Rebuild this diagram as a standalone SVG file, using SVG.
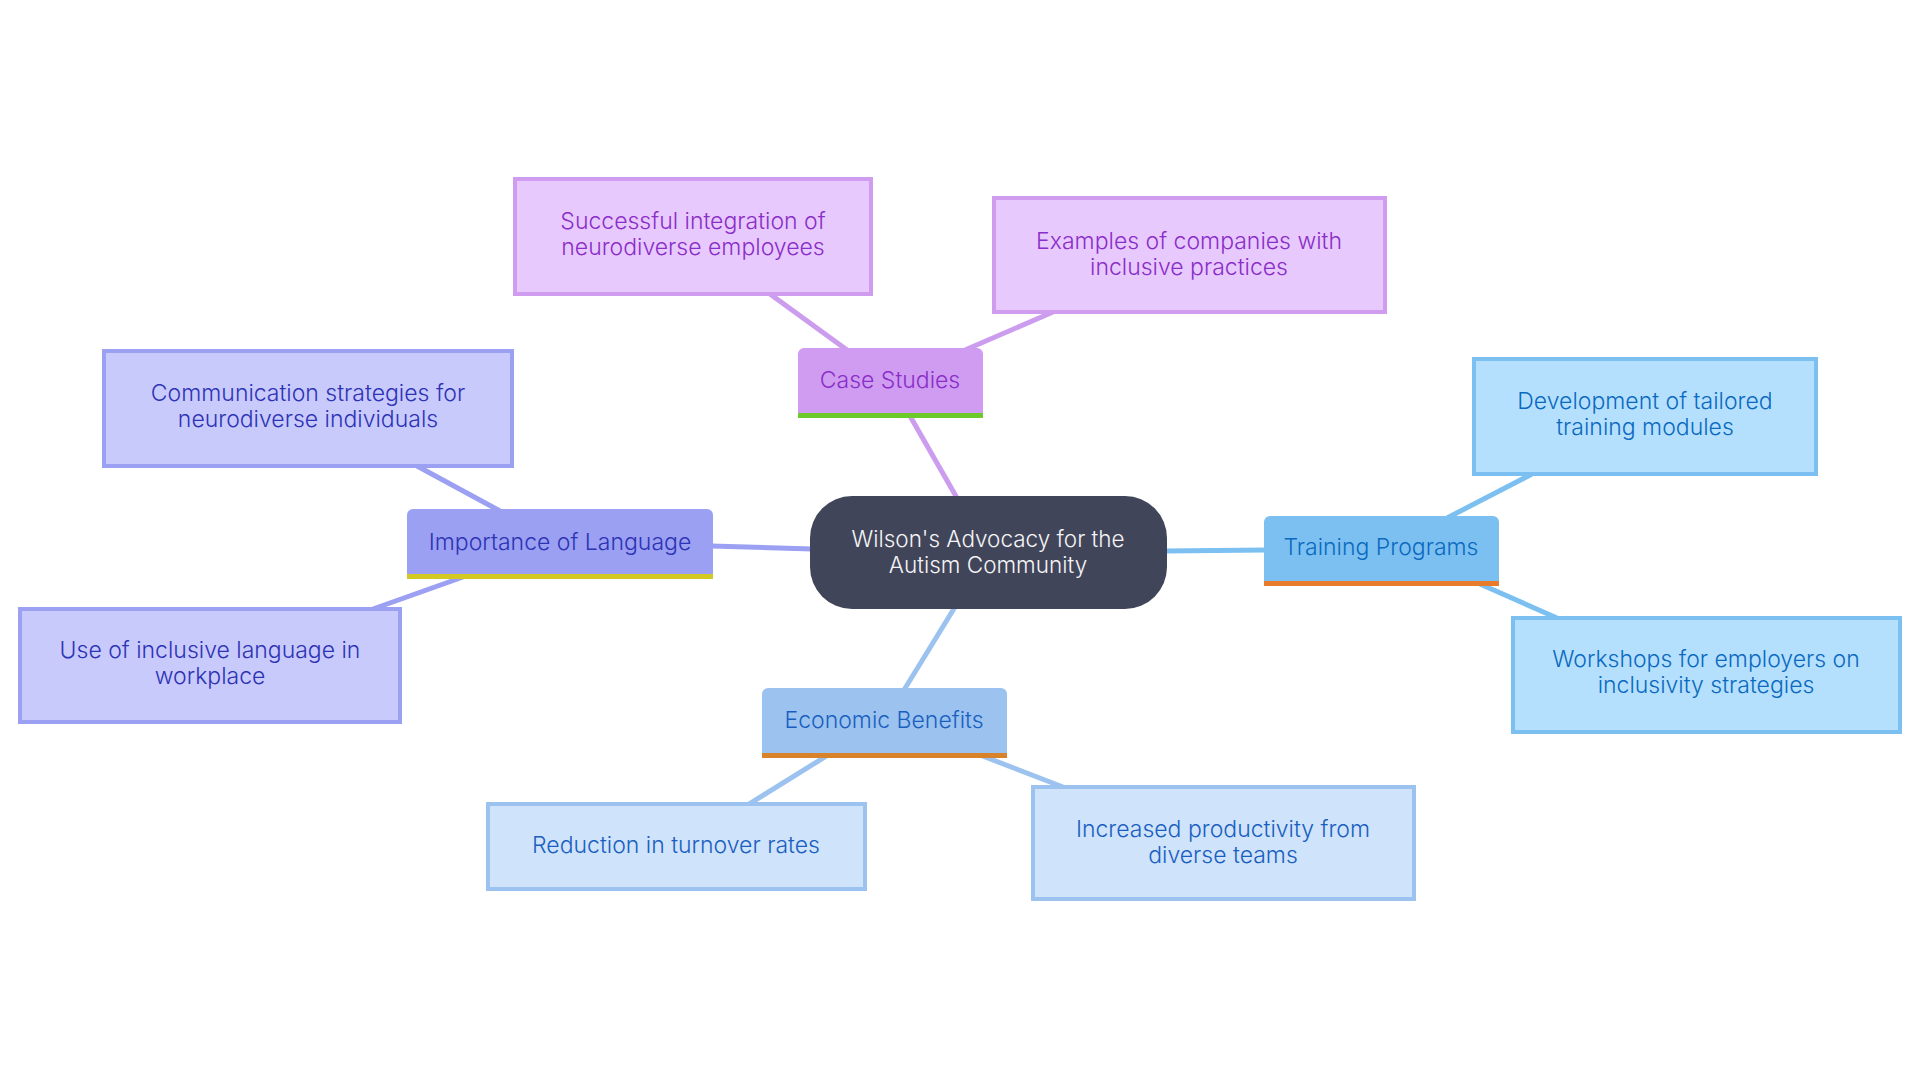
<svg xmlns="http://www.w3.org/2000/svg" width="1920" height="1080" viewBox="0 0 1920 1080">
<style>
text{font-family:Inter,"Noto Sans","Liberation Sans",sans-serif;font-size:23px;font-weight:300;text-anchor:middle;dominant-baseline:central}
.c{font-size:22.5px}
.e{fill:none;stroke-width:5;stroke-linecap:butt}
.ep{stroke:#cc9cee}.ei{stroke:#9ba0f2}.et{stroke:#7cc0f1}.eb{stroke:#9cc3ef}
.lp{fill:#e8c9fd;stroke:#cf9cf0;stroke-width:4}
.li{fill:#c9cafc;stroke:#9ba0f2;stroke-width:4}
.lt{fill:#b5e0fd;stroke:#7cc0f1;stroke-width:4}
.lb{fill:#cfe3fb;stroke:#9cc3ef;stroke-width:4}
.tp{fill:#8a2ec8}.ti{fill:#2d33b5}.tt{fill:#0b6abf}.tb{fill:#1a5fc0}
</style>
<rect width="1920" height="1080" fill="#ffffff"/>
<g id="connectors">
<line class="e ep" x1="910" y1="416" x2="957" y2="498"/>
<line class="e ep" x1="847" y1="350" x2="770" y2="294"/>
<line class="e ep" x1="965" y1="350" x2="1053" y2="312"/>
<line class="e ei" x1="711" y1="546" x2="812" y2="549"/>
<line class="e ei" x1="500" y1="511" x2="417" y2="466"/>
<line class="e ei" x1="463" y1="577" x2="373" y2="609"/>
<line class="e et" x1="1165" y1="551" x2="1266" y2="550"/>
<line class="e et" x1="1447" y1="518" x2="1532" y2="474"/>
<line class="e et" x1="1480" y1="584" x2="1557" y2="618"/>
<line class="e eb" x1="955" y1="607" x2="904" y2="690"/>
<line class="e eb" x1="828" y1="755" x2="749" y2="804"/>
<line class="e eb" x1="980" y1="755" x2="1063" y2="787"/>
</g>
<g id="center">
<rect x="810" y="496" width="357" height="113" rx="42" fill="#414559"/>
<text class="c" x="988" y="538" fill="#f4f4f6">Wilson's Advocacy for the</text>
<text class="c" x="988" y="564" fill="#f4f4f6">Autism Community</text>
</g>
<g id="case-studies">
<path d="M798 413V354a6 6 0 0 1 6-6h173a6 6 0 0 1 6 6V413Z" fill="#cf9cf2"/>
<rect x="798" y="413" width="185" height="5" fill="#6ccb2b"/>
<text class="tp" x="890" y="380">Case Studies</text>
</g>
<g id="importance">
<path d="M407 574V515a6 6 0 0 1 6-6h294a6 6 0 0 1 6 6V574Z" fill="#9ba0f2"/>
<rect x="407" y="574" width="306" height="5" fill="#d4c922"/>
<text class="ti" x="560" y="542">Importance of Language</text>
</g>
<g id="training">
<path d="M1264 581V522a6 6 0 0 1 6-6h223a6 6 0 0 1 6 6V581Z" fill="#7cc0f1"/>
<rect x="1264" y="581" width="235" height="5" fill="#e87c2c"/>
<text class="tt" x="1381" y="547">Training Programs</text>
</g>
<g id="economic">
<path d="M762 753V694a6 6 0 0 1 6-6h233a6 6 0 0 1 6 6V753Z" fill="#9cc3ef"/>
<rect x="762" y="753" width="245" height="5" fill="#d8822a"/>
<text class="tb" x="884" y="720">Economic Benefits</text>
</g>
<g id="successful">
<rect class="lp" x="515" y="179" width="356" height="115"/>
<text class="tp" x="693" y="221">Successful integration of</text>
<text class="tp" x="693" y="247">neurodiverse employees</text>
</g>
<g id="examples">
<rect class="lp" x="994" y="198" width="391" height="114"/>
<text class="tp" x="1189" y="241">Examples of companies with</text>
<text class="tp" x="1189" y="267">inclusive practices</text>
</g>
<g id="communication">
<rect class="li" x="104" y="351" width="408" height="115"/>
<text class="ti" x="308" y="393">Communication strategies for</text>
<text class="ti" x="308" y="419">neurodiverse individuals</text>
</g>
<g id="inclusive-language">
<rect class="li" x="20" y="609" width="380" height="113"/>
<text class="ti" x="210" y="650">Use of inclusive language in</text>
<text class="ti" x="210" y="676">workplace</text>
</g>
<g id="development">
<rect class="lt" x="1474" y="359" width="342" height="115"/>
<text class="tt" x="1645" y="401">Development of tailored</text>
<text class="tt" x="1645" y="427">training modules</text>
</g>
<g id="workshops">
<rect class="lt" x="1513" y="618" width="387" height="114"/>
<text class="tt" x="1706" y="659">Workshops for employers on</text>
<text class="tt" x="1706" y="685">inclusivity strategies</text>
</g>
<g id="reduction">
<rect class="lb" x="488" y="804" width="377" height="85"/>
<text class="tb" x="676" y="845">Reduction in turnover rates</text>
</g>
<g id="productivity">
<rect class="lb" x="1033" y="787" width="381" height="112"/>
<text class="tb" x="1223" y="829">Increased productivity from</text>
<text class="tb" x="1223" y="855">diverse teams</text>
</g>
</svg>
